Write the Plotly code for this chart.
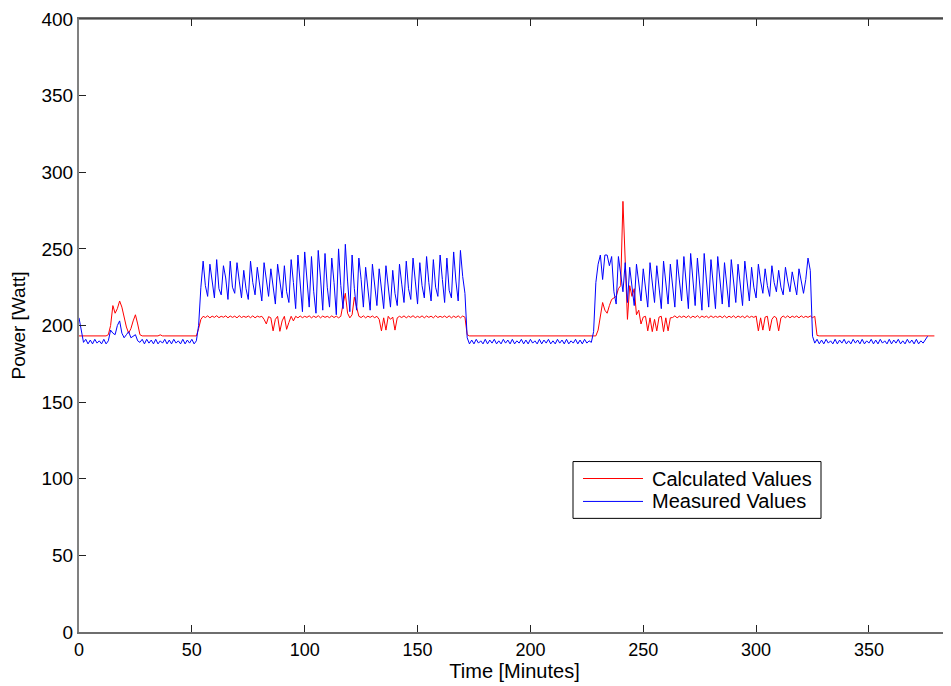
import plotly.graph_objects as go

# Time axis (minutes, one sample per minute)
time_min = list(range(380))

# Calculated power [W]
calculated = (
    [193.2] * 13
    + [194, 200, 213, 208, 211, 216, 212, 205, 199, 195, 198, 203, 207, 201, 194, 193.2]
    + [193.2, 193.2, 193.2, 193.2, 193.2, 193.2, 193.2, 193.9, 193.2, 193.2, 193.2, 193.2,
       193.2, 193.2, 193.2, 193.2, 193.2, 193.2, 193.2, 193.2, 193.2, 193.2, 193.2, 193.2]
    + [198, 204]
    + [206, 205.2, 206.3, 205, 206.1, 205.3, 206.4, 205.1, 206, 205.4, 206.3, 205, 206.2,
       205.3, 206.1, 205, 206.4, 205.2, 206, 205.3, 206.2, 205.1, 206.3, 205, 206.1]
    + [205.5, 206, 204, 201, 205.8, 205, 196.5, 204, 206, 196.2, 203, 206, 197.5, 202, 206,
       203, 206, 205]
    + [206.2, 205.1, 206, 205.3, 206.3, 205, 206.1, 205.2, 206.4, 205, 206.2, 205.3, 206,
       205.1, 206.3, 205.2, 206.1, 205]
    + [206, 214, 221, 208, 205, 207, 218.5, 212, 206]
    + [205.2, 206.3, 205, 206.1, 205.3, 206.2, 205.1, 206]
    + [204, 196.5, 205, 197, 206, 204, 205.5, 197, 205, 206]
    + [205.2, 206.3, 205, 206.1, 205.3, 206.4, 205.1, 206, 205.2, 206.3, 205, 206.2, 205.3,
       206.1, 205, 206.4, 205.2, 206, 205.3, 206.2, 205.1, 206.3, 205, 206.1, 205.2, 206.3,
       205, 206.2, 205.4]
    + [194] + [193.2] * 57
    + [197, 206, 215, 210, 208, 213, 217, 218, 219, 224, 226, 281, 237, 204, 226, 219, 224,
       207, 210, 201, 205.5, 206]
    + [196.5, 205, 196, 204, 196.5, 205.5, 206, 196, 205, 196.5, 205]
    + [205.2, 206.3, 205, 206.1, 205.3, 206.2, 205.1, 206.3, 205, 206.1, 205.2, 206.4, 205,
       206.2, 205.3, 206.1, 205, 206.3, 205.2, 206, 205.3, 206.2, 205.1, 206.3, 205, 206.1,
       205.2, 206.3, 205, 206.2, 205.3, 206.1, 205, 206.4, 205.2, 206, 205.3, 206.2]
    + [196.5, 205, 197, 205.5, 206, 196.5, 204, 206, 205, 196.5, 205]
    + [206.2, 205.1, 206.3, 205, 206.1, 205.3, 206.2, 205, 206.3, 205.2, 206, 205.3, 206.2,
       205.1, 206]
    + [193.5] + [193.2] * 52
)

# Measured power [W]
measured = (
    [205, 196, 189, 191, 188, 190.5, 188, 191, 188.5, 190, 188, 191, 188, 190]
    + [197, 195, 194, 200, 203, 195, 192, 194, 196, 192, 193, 194, 190, 189, 191]
    + [188, 191, 188.5, 190.5, 188, 191, 188, 190, 188.5, 191, 188, 190.5, 188, 191, 188.5,
       190, 188, 191, 188, 190.5, 188.5, 191, 188, 190]
    + [200, 225]
    + [242, 226, 219, 240, 230, 218, 243, 224, 220, 239, 231, 217, 242, 225, 221,
       241, 229, 218, 236, 224, 217, 242, 228, 220, 238, 226, 216, 241, 230, 219,
       237, 225, 214, 240, 229, 218, 239, 222, 215, 243, 228, 211, 246, 224, 209,
       248, 230, 212, 245, 222, 208, 249, 231, 210, 247, 225, 212, 244, 228, 207,
       250, 226, 211, 253, 229, 209, 246, 224, 210, 244, 230, 212, 238, 223, 210,
       240, 227, 213, 237, 222, 211, 239, 226, 212, 236, 221, 213, 240, 227, 215,
       242, 224, 217, 244, 229, 214, 241, 226, 218, 245, 228, 216, 243, 225, 219,
       246, 230, 215, 244, 223, 218, 248, 229, 216, 249, 232, 221]
    + [192, 188, 190.5, 188, 191, 188.5, 190, 188, 191, 188, 190.5, 188.5, 191, 188, 190,
       188, 191, 188.5, 190.5, 188, 191, 188, 190, 188.5, 191, 188, 190.5, 188, 191, 188.5,
       190, 188, 191, 188, 190.5, 188.5, 191, 188, 190, 188, 191, 188.5, 190.5, 188, 191,
       188, 190, 188.5, 191, 188, 190.5, 188, 191, 188.5, 190, 189]
    + [196, 228, 240, 246, 230, 246, 246, 239, 245, 222, 214, 245, 232, 222, 241, 215]
    + [238, 224, 213, 240, 228, 216, 237, 222, 212, 241, 227, 215, 239, 223, 211,
       242, 228, 214, 240, 224, 212, 243, 229, 216, 245, 225, 211, 247, 230, 213,
       244, 226, 210, 247, 229, 212, 243, 224, 211, 245, 228, 214, 241, 225, 212,
       243, 229, 215, 240, 224, 213, 242, 228, 216, 238, 225, 218, 240, 229, 221,
       237, 226, 219, 239, 228, 222, 236, 225, 220, 238, 229, 222, 235, 226, 220,
       237, 229, 221, 230, 244, 236]
    + [193, 188.5, 191, 188, 190.5, 188, 191, 188.5, 190, 188, 191, 188, 190.5, 188.5, 191,
       188, 190, 188, 191, 188.5, 190.5, 188, 191, 188, 190, 188.5, 191, 188, 190.5, 188,
       191, 188.5, 190, 188, 191, 188, 190.5, 188.5, 191, 188, 190, 188, 191, 188.5, 190.5,
       188, 191, 188, 190, 188.5, 191, 193]
)

x_ticks = [0, 50, 100, 150, 200, 250, 300, 350]
y_ticks = [0, 50, 100, 150, 200, 250, 300, 350, 400]

FONT = "Liberation Sans, Arial, sans-serif"

fig = go.Figure()
fig.add_trace(go.Scatter(x=time_min, y=calculated, mode="lines", name="Calculated Values",
                         line=dict(color="#ff0000", width=1)))
fig.add_trace(go.Scatter(x=time_min, y=measured, mode="lines", name="Measured Values",
                         line=dict(color="#0000ff", width=1)))

# page offset of 8 px (body margin); plot area in page px: x 79..950, y 17..632
def px_x(p):
    return (p - 79) / 871.0

def px_y(p):
    return (632 - p) / 615.0

shapes = [
    dict(type="line", xref="paper", yref="paper", x0=0, x1=1, y0=1, y1=1,
         line=dict(color="#222222", width=1)),
    dict(type="rect", xref="paper", yref="paper", x0=px_x(573), x1=px_x(821),
         y0=px_y(518), y1=px_y(461), line=dict(color="#000000", width=1),
         fillcolor="white"),
    dict(type="line", xref="paper", yref="paper", x0=px_x(583), x1=px_x(643),
         y0=px_y(478), y1=px_y(478), line=dict(color="#ff0000", width=1)),
    dict(type="line", xref="paper", yref="paper", x0=px_x(583), x1=px_x(643),
         y0=px_y(501), y1=px_y(501), line=dict(color="#0000ff", width=1)),
]
annotations = [
    dict(xref="paper", yref="paper", x=px_x(650), y=px_y(478), text="Calculated Values",
         showarrow=False, xanchor="left", yanchor="middle",
         font=dict(family=FONT, size=20, color="black")),
    dict(xref="paper", yref="paper", x=px_x(650), y=px_y(501), text="Measured Values",
         showarrow=False, xanchor="left", yanchor="middle",
         font=dict(family=FONT, size=20, color="black")),
]

fig.update_layout(
    width=943, height=678,
    margin=dict(l=71, r=1, t=9, b=54),
    paper_bgcolor="white", plot_bgcolor="white",
    showlegend=False,
    shapes=shapes,
    annotations=annotations,
    font=dict(family=FONT, size=19, color="black"),
    xaxis=dict(
        range=[0, 871 / 2.257], tickvals=x_ticks, ticktext=[str(v) for v in x_ticks],
        ticks="inside", ticklen=7, tickcolor="#222222", tickwidth=1,
        showline=True, linecolor="#6e6e6e", linewidth=2, mirror="ticks",
        showgrid=False, zeroline=False, ticklabeloverflow="allow",
        tickfont=dict(family=FONT, size=18),
        title=dict(text="Time [Minutes]", standoff=4, font=dict(family=FONT, size=20)),
    ),
    yaxis=dict(
        range=[0, 400], tickvals=y_ticks, ticktext=[str(v) for v in y_ticks],
        ticks="inside", ticklen=7, tickcolor="#222222", tickwidth=1,
        showline=True, linecolor="#808080", linewidth=2, mirror=False,
        showgrid=False, zeroline=False, ticklabeloverflow="allow",
        tickfont=dict(family=FONT, size=19),
        title=dict(text="Power [Watt]", standoff=12, font=dict(family=FONT, size=19)),
    ),
)

fig.write_html("out.html")
